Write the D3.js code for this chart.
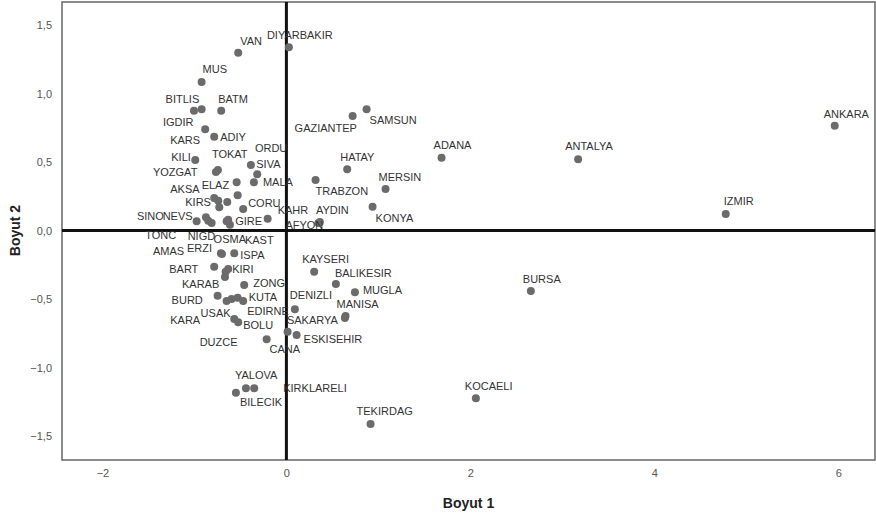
<!DOCTYPE html>
<html>
<head>
<meta charset="utf-8">
<script src="https://cdn.jsdelivr.net/npm/d3@7"></script>
<style>
  body { margin: 0; background: #fff; }
  text { font-family: "Liberation Sans", Arial, sans-serif; }
</style>
</head>
<body>
<div id="chart"></div>
<script>
// provinces (empty name = point drawn without a label)
const names = [
    "VAN", "DIYARBAKIR", "MUS", "BITLIS", "IGDIR", "BATM", "KARS", "ADIY", "KILI", "TOKAT",
    "YOZGAT", "ORDU", "SIVA", "MALA", "ELAZ", "AKSA", "KIRS", "", "", "",
    "CORU", "KAHR", "SINO", "NEVS", "TONC", "NIGD", "OSMA", "KAST", "GIRE", "AYDIN",
    "AFYON", "TRABZON", "HATAY", "MERSIN", "KONYA", "GAZIANTEP", "SAMSUN", "ADANA", "ANTALYA", "ANKARA",
    "IZMIR", "BURSA", "KOCAELI", "TEKIRDAG", "KAYSERI", "BALIKESIR", "MUGLA", "MANISA", "SAKARYA", "DENIZLI",
    "ESKISEHIR", "CANA", "DUZCE", "AMAS", "ERZI", "ISPA", "BART", "KIRI", "", "KARAB",
    "ZONG", "BURD", "USAK", "", "KUTA", "EDIRNE", "KARA", "BOLU", "YALOVA", "BILECIK",
    "KIRKLARELI"
];
const boyut1 = [
    -0.524, 0.027, -0.922, -0.922, -1.005, -0.709, -0.883, -0.785, -0.991, -0.745,
    -0.766, -0.386, -0.317, -0.353, -0.541, -0.785, -0.741, -0.730, -0.643, -0.530,
    -0.470, -0.204, -0.875, -0.976, -0.850, -0.813, -0.650, -0.614, -0.633, 0.364,
    0.348, 0.317, 0.661, 1.078, 0.937, 0.720, 0.872, 1.687, 3.172, 5.962,
    4.777, 2.658, 2.060, 0.915, 0.302, 0.538, 0.745, 0.643, 0.636, 0.092,
    0.111, 0.013, -0.215, -0.712, -0.701, -0.567, -0.785, -0.633, -0.661, -0.668,
    -0.459, -0.748, -0.650, -0.596, -0.530, -0.470, -0.567, -0.524, -0.440, -0.549,
    -0.350
];
const boyut2 = [
    1.298, 1.337, 1.084, 0.885, 0.874, 0.874, 0.739, 0.685, 0.515, 0.442,
    0.427, 0.478, 0.410, 0.352, 0.352, 0.237, 0.218, 0.169, 0.208, 0.257,
    0.157, 0.086, 0.096, 0.067, 0.072, 0.055, 0.067, 0.042, 0.079, 0.062,
    0.055, 0.369, 0.447, 0.303, 0.174, 0.836, 0.885, 0.531, 0.520, 0.765,
    0.120, -0.442, -1.225, -1.412, -0.301, -0.391, -0.451, -0.624, -0.639, -0.575,
    -0.763, -0.739, -0.794, -0.166, -0.172, -0.166, -0.264, -0.281, -0.301, -0.339,
    -0.398, -0.476, -0.515, -0.500, -0.491, -0.515, -0.646, -0.670, -1.152, -1.184,
    -1.152
];
const xTicks = [-2, 0, 2, 4, 6];
const yTicks = [1.5, 1.0, 0.5, 0.0, -0.5, -1.0, -1.5];

// label placement (pixels from the point, left edge / vertical middle)
const labelOffset = {
    VAN: [2, -12], DIYARBAKIR: [-22, -12], MUS: [1, -13], BITLIS: [-36, -10], IGDIR: [-31, 11],
    BATM: [-3, -12], KARS: [-35, 11], ADIY: [6, 0], KILI: [-24, -3], TOKAT: [-6, -16],
    YOZGAT: [-63, 0], ORDU: [4, -17], SIVA: [-1, -10], MALA: [9, 0], ELAZ: [-35, 3],
    AKSA: [-44, -9], KIRS: [-33, 1], CORU: [5, -6], KAHR: [10, -9], SINO: [-69, -1],
    NEVS: [-34, -5], TONC: [-63, 14], NIGD: [-24, 13], OSMA: [-13, 18], KAST: [15, 15],
    GIRE: [7, 1], AYDIN: [-4, -12], AFYON: [-33, 2], TRABZON: [0, 11], HATAY: [-7, -12],
    MERSIN: [-7, -12], KONYA: [3, 11], GAZIANTEP: [-58, 12], SAMSUN: [3, 11], ADANA: [-8, -13],
    ANTALYA: [-13, -13], ANKARA: [-11, -12], IZMIR: [-2, -13], BURSA: [-8, -12], KOCAELI: [-11, -12],
    TEKIRDAG: [-14, -13], KAYSERI: [-12, -13], BALIKESIR: [-1, -11], MUGLA: [8, -2], MANISA: [-9, -12],
    SAKARYA: [-58, 2], DENIZLI: [-5, -14], ESKISEHIR: [7, 4], CANA: [-18, 17], DUZCE: [-67, 3],
    AMAS: [-68, -2], ERZI: [-35, -6], ISPA: [6, 2], BART: [-45, 2], KIRI: [4, 0],
    KARAB: [-43, 7], ZONG: [9, -2], BURD: [-46, 4], USAK: [-26, 12], KUTA: [11, -1],
    EDIRNE: [4, 10], KARA: [-64, 1], BOLU: [5, 3], YALOVA: [-11, -13], BILECIK: [4, 9],
    KIRKLARELI: [29, 0]
};

const data = names.map((n, i) => ({ name: n, x: boyut1[i], y: boyut2[i] }));

const W = 876, H = 521;
const plot = { left: 62, right: 875, top: 2, bottom: 460 };

const svg = d3.select("#chart").append("svg")
    .attr("width", W)
    .attr("height", H);

const x = d3.scaleLinear()
    .domain([-2.44, 6.40])
    .range([plot.left, plot.right]);

const y = d3.scaleLinear()
    .domain([-1.675, 1.668])
    .range([plot.bottom, plot.top]);

// frame
svg.append("rect")
    .attr("x", plot.left)
    .attr("y", plot.top)
    .attr("width", plot.right - plot.left)
    .attr("height", plot.bottom - plot.top)
    .attr("fill", "none")
    .attr("stroke", "#6e6e6e")
    .attr("stroke-width", 1.6);

// axes (labels only, no tick marks)
const fmt = d3.format(".1f");
svg.append("g")
    .attr("transform", "translate(0," + plot.bottom + ")")
    .call(d3.axisBottom(x).tickValues(xTicks).tickSize(0).tickPadding(9).tickFormat(d3.format("d")))
    .call(g => g.select(".domain").remove())
    .selectAll("text")
    .style("font-size", "11px")
    .style("fill", "#555");

svg.append("g")
    .attr("transform", "translate(" + plot.left + ",0)")
    .call(d3.axisLeft(y).tickValues(yTicks).tickSize(0).tickPadding(10)
        .tickFormat(d => fmt(d).replace(".", ",")))
    .call(g => g.select(".domain").remove())
    .selectAll("text")
    .style("font-size", "11px")
    .style("fill", "#555");

// reference lines at 0
svg.append("line")
    .attr("x1", plot.left).attr("x2", plot.right)
    .attr("y1", y(0)).attr("y2", y(0))
    .attr("stroke", "#111")
    .attr("stroke-width", 3);

svg.append("line")
    .attr("x1", x(0)).attr("x2", x(0))
    .attr("y1", plot.top).attr("y2", plot.bottom)
    .attr("stroke", "#111")
    .attr("stroke-width", 3);

// points
svg.selectAll(".pt")
    .data(data)
    .enter().append("circle")
    .attr("class", "pt")
    .attr("cx", d => x(d.x))
    .attr("cy", d => y(d.y))
    .attr("r", 4)
    .attr("fill", "#6b6b6b");

// point labels
svg.selectAll(".lbl")
    .data(data.filter(d => d.name !== ""))
    .enter().append("text")
    .attr("class", "lbl")
    .attr("x", d => x(d.x) + (labelOffset[d.name] || [0, -12])[0])
    .attr("y", d => y(d.y) + (labelOffset[d.name] || [0, -12])[1])
    .attr("dy", "0.35em")
    .style("font-size", "11px")
    .style("fill", "#333")
    .text(d => d.name);

// axis titles
svg.append("text")
    .attr("x", (plot.left + plot.right) / 2)
    .attr("y", 503)
    .attr("text-anchor", "middle")
    .attr("dy", "0.35em")
    .style("font-size", "14px")
    .style("font-weight", "bold")
    .style("fill", "#222")
    .text("Boyut 1");

svg.append("text")
    .attr("transform", "translate(15," + y(0) + ") rotate(-90)")
    .attr("text-anchor", "middle")
    .attr("dy", "0.35em")
    .style("font-size", "14px")
    .style("font-weight", "bold")
    .style("fill", "#222")
    .text("Boyut 2");
</script>
</body>
</html>
